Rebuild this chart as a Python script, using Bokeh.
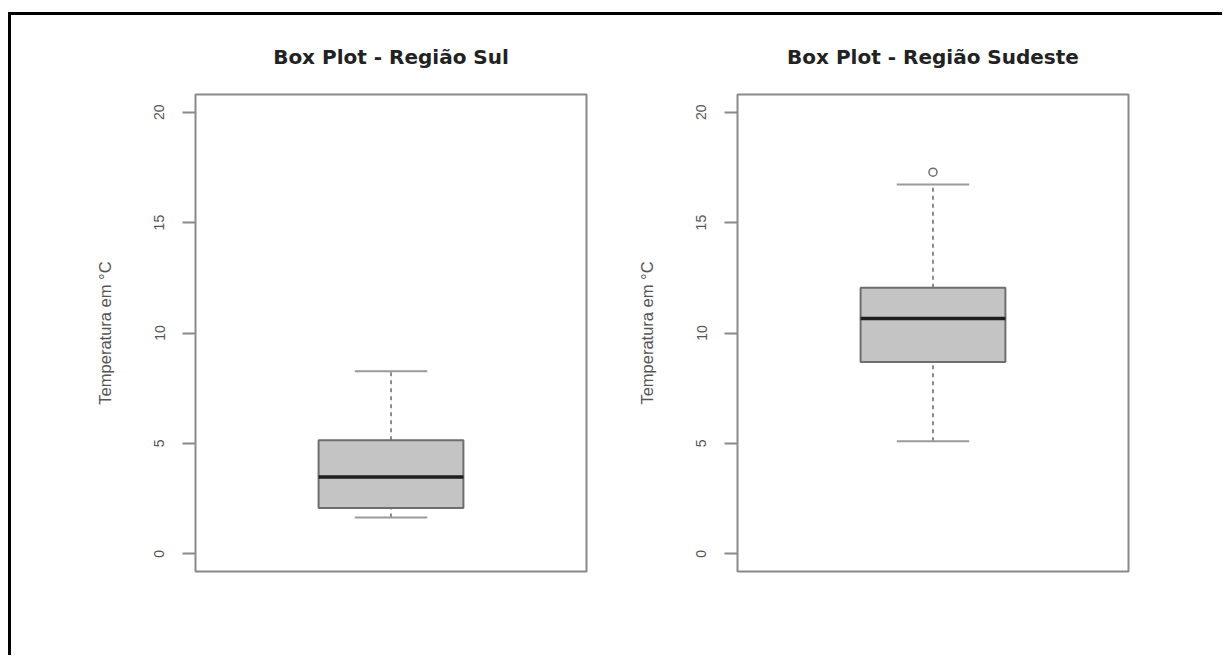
from bokeh.plotting import figure
from bokeh.layouts import row
from bokeh.models import FixedTicker, Title, Range1d
from bokeh.embed import file_html
from bokeh.resources import INLINE

# ---- data ----
regions = ["Região Sul", "Região Sudeste"]
titles = ["Box Plot - Região Sul", "Box Plot - Região Sudeste"]
lower_whisker = [1.65, 5.10]
q1 = [2.07, 8.69]
median = [3.48, 10.66]
q3 = [5.14, 12.05]
upper_whisker = [8.27, 16.73]
outliers = [[], [17.28]]
y_ticks = [0, 5, 10, 15, 20]
y_label = "Temperatura em °C"

FRAME = "#8a8a8a"
TXT = "#555555"
H = 640


def make_panel(i, width, left):
    p = figure(width=width, height=H, output_backend="svg", toolbar_location=None,
               x_range=Range1d(0.46, 1.54), y_range=Range1d(-0.8, 20.8),
               min_border_left=left, min_border_right=width - left - 391,
               min_border_top=79, min_border_bottom=H - 79 - 477)
    p.title = Title(text=titles[i], align="center", text_font="DejaVu Sans",
                    text_font_size="20px", text_font_style="bold",
                    text_color="#222222", standoff=52)
    p.grid.visible = False
    p.xaxis.visible = False
    p.outline_line_color = FRAME
    p.outline_line_width = 2
    ax = p.yaxis[0]
    ax.ticker = FixedTicker(ticks=y_ticks)
    ax.axis_line_color = None
    ax.major_tick_line_color = FRAME
    ax.major_tick_line_width = 2
    ax.major_tick_out = 13
    ax.major_tick_in = 0
    ax.minor_tick_line_color = None
    ax.major_label_orientation = "vertical"
    ax.major_label_text_font = "Liberation Sans"
    ax.major_label_text_font_size = "14px"
    ax.major_label_text_color = TXT
    ax.major_label_standoff = 18
    ax.axis_label = y_label
    ax.axis_label_text_font = "Liberation Sans"
    ax.axis_label_text_font_size = "16.5px"
    ax.axis_label_text_font_style = "normal"
    ax.axis_label_text_color = TXT
    ax.axis_label_standoff = 38

    xc = [1]
    # whiskers (dashed)
    p.segment(x0=xc, x1=xc, y0=[q3[i]], y1=[upper_whisker[i]],
              line_color="#707070", line_width=1.6, line_dash="4 4")
    p.segment(x0=xc, x1=xc, y0=[lower_whisker[i]], y1=[q1[i]],
              line_color="#707070", line_width=1.6, line_dash="4 4")
    # caps
    p.segment(x0=[0.9], x1=[1.1], y0=[upper_whisker[i]], y1=[upper_whisker[i]],
              line_color="#9a9a9a", line_width=2)
    p.segment(x0=[0.9], x1=[1.1], y0=[lower_whisker[i]], y1=[lower_whisker[i]],
              line_color="#9a9a9a", line_width=2)
    # box
    p.vbar(x=xc, width=0.4, bottom=[q1[i]], top=[q3[i]],
           fill_color="#c4c4c4", line_color="#6e6e6e", line_width=2)
    # median
    p.segment(x0=[0.8], x1=[1.2], y0=[median[i]], y1=[median[i]],
              line_color="#1e1e1e", line_width=3.5)
    if outliers[i]:
        p.scatter(x=[1] * len(outliers[i]), y=outliers[i], marker="circle", size=8,
                  fill_color=None, line_color="#6e6e6e", line_width=1.5)
    return p


p1 = make_panel(0, 620, 184)
p2 = make_panel(1, 591, 106)

layout = row(p1, p2, styles={"border-top": "3px solid black",
                             "border-left": "3px solid black",
                             "margin-top": "12px",
                             "margin-left": "8px"})

open("out.html", "w").write(file_html(layout, INLINE))
